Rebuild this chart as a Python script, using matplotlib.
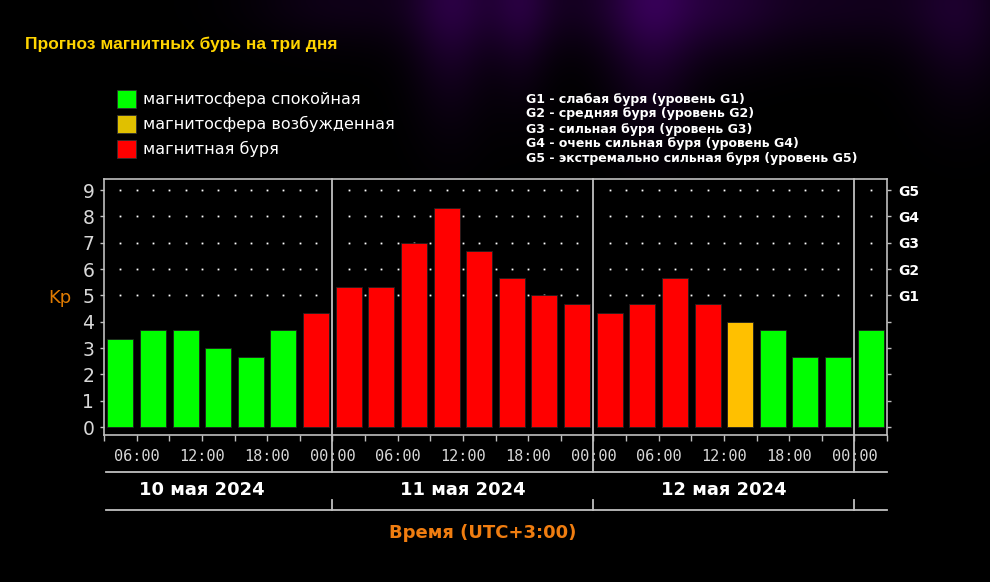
import matplotlib
matplotlib.use('Agg')
import matplotlib.pyplot as plt
import matplotlib.transforms as mtransforms
import numpy as np

# Kp forecast, 3-hour intervals, hours from 10 May 00:00 (UTC+3)
interval_start = [3, 6, 9, 12, 15, 18, 21,
                  24, 27, 30, 33, 36, 39, 42, 45,
                  48, 51, 54, 57, 60, 63, 66, 69,
                  72]
kp_values = [3.33, 3.67, 3.67, 3.0, 2.67, 3.67, 4.33,
             5.33, 5.33, 7.0, 8.33, 6.67, 5.67, 5.0, 4.67,
             4.33, 4.67, 5.67, 4.67, 4.0, 3.67, 2.67, 2.67,
             3.67]
hour_labels = ['06:00', '12:00', '18:00', '00:00']
day_labels = ['10 мая 2024', '11 мая 2024', '12 мая 2024']
legend_labels = ['магнитосфера спокойная', 'магнитосфера возбужденная', 'магнитная буря']
g_labels = ['G1', 'G2', 'G3', 'G4', 'G5']
g_descr = ['G1 - слабая буря (уровень G1)',
           'G2 - средняя буря (уровень G2)',
           'G3 - сильная буря (уровень G3)',
           'G4 - очень сильная буря (уровень G4)',
           'G5 - экстремально сильная буря (уровень G5)']

GREEN = '#00ff00'
YELLOW = '#ffc000'
RED = '#ff0000'
LINE = '#c0c0c0'
TXT = '#d8d8d8'


def bar_color(v):
    if v < 4:
        return GREEN
    if v < 4.2:
        return YELLOW
    return RED


def fx(px):
    return px / 990.0


def fy(py):
    return 1 - py / 582.0


fig = plt.figure(figsize=(9.9, 5.82), dpi=100)
fig.patch.set_facecolor('black')

# background haze (decoration only)
bg = fig.add_axes([0, 0, 1, 1])
bg.axis('off')
yy, xx = np.mgrid[0:582, 0:990]
haze = np.zeros((582, 990))
for cx, cy, sx, sy, a in [(450, 0, 40, 110, 0.45), (520, 0, 30, 90, 0.35),
                          (650, 0, 45, 110, 0.55), (720, 0, 60, 60, 0.3),
                          (560, 0, 200, 50, 0.3), (850, 0, 120, 50, 0.25),
                          (960, 10, 50, 90, 0.35), (330, 0, 80, 40, 0.15)]:
    haze += a * np.exp(-((xx - cx) / sx) ** 2 - ((yy - cy) / sy) ** 2)
haze = np.clip(haze, 0, 1)
img = np.zeros((582, 990, 3))
img[..., 0] = 0.24 * haze
img[..., 2] = 0.38 * haze
bg.imshow(img, extent=[0, 990, 582, 0], aspect='auto')
bg.set_xlim(0, 990)
bg.set_ylim(582, 0)

ax = fig.add_axes([fx(104), fy(435), fx(887 - 104), (435 - 179) / 582.0])
ax.set_facecolor('black')

x_centers = [s + 1.5 for s in interval_start]
ax.bar(x_centers, kp_values, width=2.4,
       color=[bar_color(v) for v in kp_values],
       edgecolor='#202020', linewidth=0.6, zorder=3)

ax.set_xlim(3, 75)
ax.set_ylim(-0.3, 9.42)

# dotted grid at G levels
dot_x = [h for h in np.arange(4.5, 75, 1.5) if h % 24 != 0]
for lvl in range(5, 10):
    ax.plot(dot_x, [lvl] * len(dot_x), linestyle='none', marker='s',
            markersize=1.3, markeredgewidth=0, color='white', zorder=2)

for sp in ax.spines.values():
    sp.set_color(LINE)
    sp.set_linewidth(1.2)

ax.set_yticks(range(10))
ax.set_yticklabels([str(i) for i in range(10)], fontsize=13.5, color=TXT)
ax.tick_params(axis='y', colors=LINE, length=3, width=1, labelcolor=TXT, pad=4)

ax.set_xticks(np.arange(6, 75, 6))
ax.set_xticklabels(hour_labels * 3, fontsize=11, color=TXT, family='DejaVu Sans Mono')
ax.set_xticks(np.arange(3, 76, 3), minor=True)
ax.tick_params(axis='x', which='both', colors=LINE, length=4, width=1,
               labelcolor=TXT, pad=6)

# right axis G levels
ax2 = ax.twinx()
ax2.set_ylim(ax.get_ylim())
ax2.set_yticks(range(10))
ax2.set_yticklabels([''] * 5 + g_labels, fontsize=10, fontweight='bold', color='white')
ax2.tick_params(axis='y', colors=LINE, length=3, width=1, labelcolor='white', pad=5)
for sp in ax2.spines.values():
    sp.set_visible(False)

# day boundaries
trans = mtransforms.blended_transform_factory(ax.transData, fig.transFigure)
for d in [24, 48, 72]:
    ax.plot([d, d], [fy(179), fy(472)], color=LINE, lw=1.3, transform=trans,
            clip_on=False, zorder=4)
    ax.plot([d, d], [fy(500), fy(510)], color=LINE, lw=1.3, transform=trans,
            clip_on=False)
for py in [472, 510]:
    ax.plot([3.2, 75], [fy(py), fy(py)], color=LINE, lw=1.3, transform=trans,
            clip_on=False)
for i, lab in enumerate(day_labels):
    ax.text(12 + 24 * i, fy(490), lab, transform=trans, ha='center', va='center',
            fontsize=13, fontweight='bold', color='white')

fig.text(fx(483), fy(533), 'Время (UTC+3:00)', ha='center', va='center',
         fontsize=13, fontweight='bold', color='#f07d10')
fig.text(fx(60), fy(298), 'Kp', ha='center', va='center', fontsize=13, color='#e07b00')

fig.text(fx(25), fy(44), 'Прогноз магнитных бурь на три дня', ha='left', va='center',
         fontsize=12.5, fontweight='bold', color='#ffd400', family='Liberation Sans')

# legend
sq_colors = [GREEN, '#e0c000', RED]
for i, (lab, c) in enumerate(zip(legend_labels, sq_colors)):
    cy = 99 + 25 * i
    fig.patches.append(plt.Rectangle((fx(117), fy(cy + 9)), fx(19), 18 / 582.0,
                                     facecolor=c, edgecolor='#303030', lw=0.6,
                                     transform=fig.transFigure, figure=fig))
    fig.text(fx(143), fy(cy), lab, ha='left', va='center', fontsize=11.5, color='white')

for i, t in enumerate(g_descr):
    fig.text(fx(526), fy(99 + 15 * i), t, ha='left', va='center', fontsize=9,
             fontweight='bold', color='white')

fig.savefig('out.png', dpi=100, facecolor='black')
